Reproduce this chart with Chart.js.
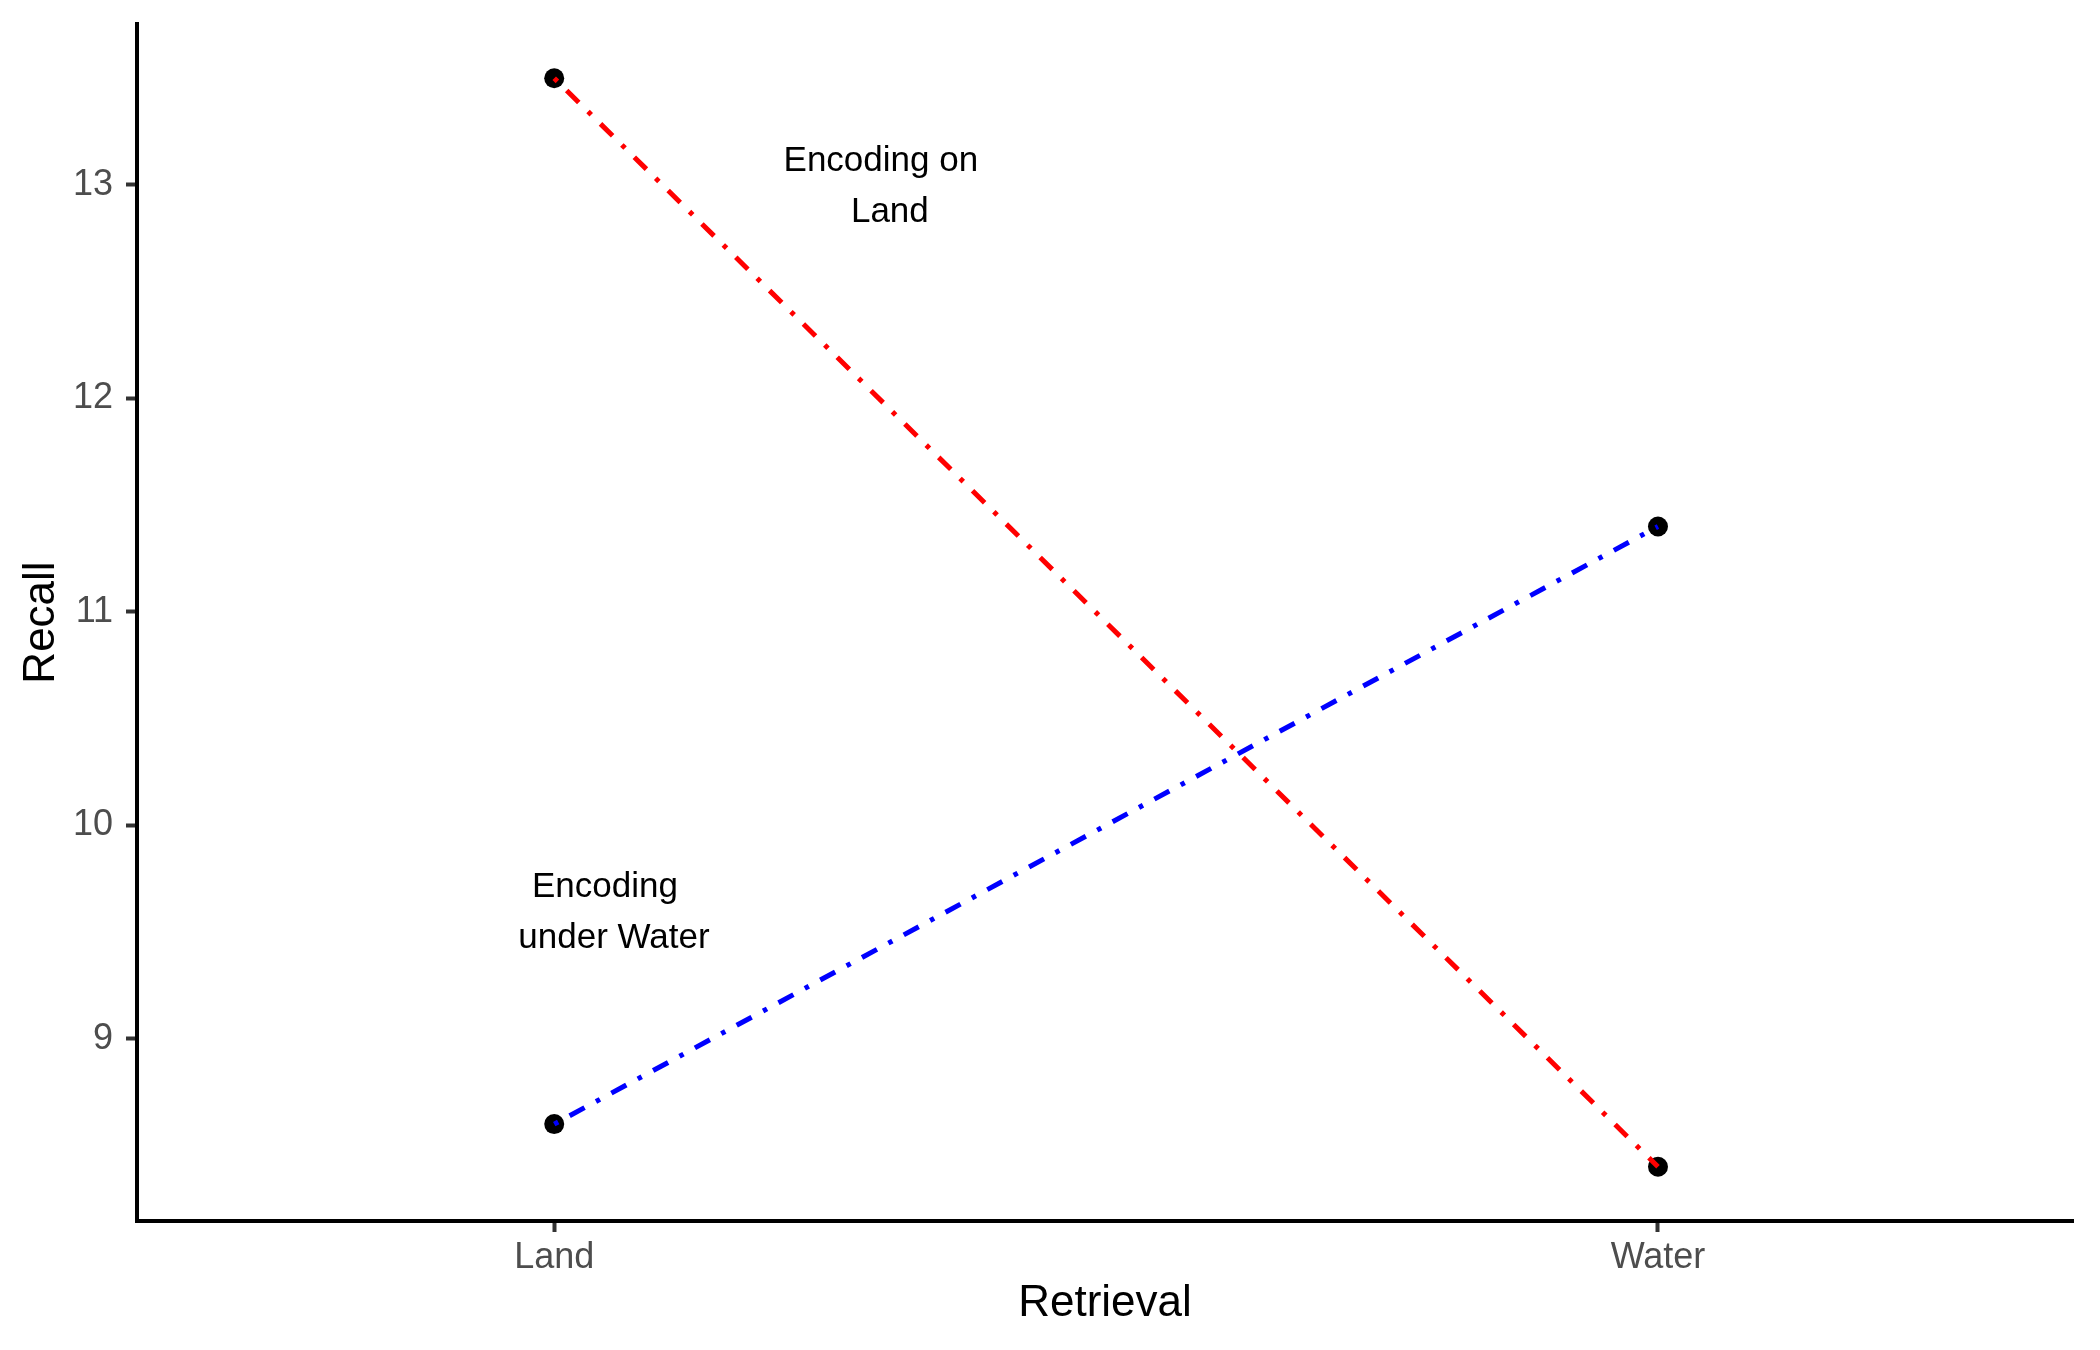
<!DOCTYPE html>
<html>
<head>
<meta charset="utf-8">
<script src="https://cdn.jsdelivr.net/npm/chart.js@4.4.1/dist/chart.umd.min.js"></script>
<style>
  html, body { margin: 0; padding: 0; background: #fff; }
  #wrap { width: 2100px; height: 1350px; }
</style>
</head>
<body>
<div id="wrap"><canvas id="myChart" width="2100" height="1350"></canvas></div>
<script>
const retrieval = ['Land', 'Water'];
const encodingLand = [13.5, 8.4];
const encodingWater = [8.6, 11.4];
const yTicks = [9, 10, 11, 12, 13];

// text labels placed in data units (x = category position, y = recall)
const notes = [
  {x: 1.3, y: 13, lines: ['Encoding on', 'Land']},
  {x: 1.05, y: 9.6, lines: ['Encoding', 'under Water']}
];

const FONT = "'Liberation Sans', Arial, sans-serif";
const toPoints = vals => vals.map((v, i) => ({x: i + 1, y: v}));
const dotdash = [4.5, 13, 17, 13];

const notesPlugin = {
  id: 'notes',
  afterDatasetsDraw(chart) {
    const {ctx, scales: {x, y}} = chart;
    ctx.save();
    ctx.fillStyle = '#000';
    ctx.font = '35px ' + FONT;
    ctx.textAlign = 'center';
    ctx.textBaseline = 'alphabetic';
    notes.forEach(n => {
      const px = x.getPixelForValue(n.x);
      const py = y.getPixelForValue(n.y);
      ctx.fillText(n.lines[0], px - 4.5, py + 12 - 25.5);
      ctx.fillText(n.lines[1], px + 4.5, py + 12 + 25.5);
    });
    ctx.restore();
  }
};

const ctx = document.getElementById('myChart');
const config = {
  type: 'line',
  data: {
    datasets: [
      {
        label: 'Encoding under Water',
        data: toPoints(encodingWater),
        borderColor: '#0000FF',
        borderWidth: 5,
        borderDash: dotdash,
        pointRadius: 0,
        fill: false,
        order: 0
      },
      {
        label: 'Encoding on Land',
        data: toPoints(encodingLand),
        borderColor: '#FF0000',
        borderWidth: 5,
        borderDash: dotdash,
        pointRadius: 0,
        fill: false,
        order: 1
      },
      {
        label: 'means',
        data: toPoints(encodingLand).concat(toPoints(encodingWater)),
        showLine: false,
        pointRadius: 10,
        pointBackgroundColor: '#000',
        pointBorderWidth: 0,
        order: 2
      }
    ]
  },
  options: {
    responsive: false,
    animation: false,
    devicePixelRatio: 1,
    layout: {padding: {left: 0, right: 27, top: 24, bottom: 0}},
    plugins: {legend: {display: false}, tooltip: {enabled: false}},
    scales: {
      x: {
        type: 'linear',
        min: 0.622,
        max: 2.376,
        afterBuildTicks: s => { s.ticks = retrieval.map((c, i) => ({value: i + 1})); },
        afterFit: s => { s.height = 129; s.paddingLeft = 0; s.paddingRight = 0; },
        ticks: {
          callback: v => retrieval[v - 1],
          color: '#4D4D4D',
          font: {family: FONT, size: 36},
          padding: 4,
          maxRotation: 0
        },
        grid: {drawOnChartArea: false, drawTicks: true, tickLength: 11, tickColor: '#333333', tickWidth: 4},
        border: {display: true, color: '#000', width: 4},
        title: {display: true, text: 'Retrieval', color: '#000', font: {family: FONT, size: 44, lineHeight: 1}, padding: {top: 0, bottom: 24}}
      },
      y: {
        type: 'linear',
        min: 8.146,
        max: 13.754,
        afterBuildTicks: s => { s.ticks = yTicks.map(v => ({value: v})); },
        afterFit: s => { s.width = 137; s.paddingTop = 0; s.paddingBottom = 0; },
        ticks: {
          color: '#4D4D4D',
          font: {family: FONT, size: 36},
          padding: 13
        },
        grid: {drawOnChartArea: false, drawTicks: true, tickLength: 11, tickColor: '#333333', tickWidth: 4},
        border: {display: true, color: '#000', width: 4},
        title: {display: true, text: 'Recall', color: '#000', font: {family: FONT, size: 44, lineHeight: 1}, padding: {top: 20, bottom: 0}}
      }
    }
  },
  plugins: [notesPlugin]
};

new Chart(ctx, config);
</script>
</body>
</html>
